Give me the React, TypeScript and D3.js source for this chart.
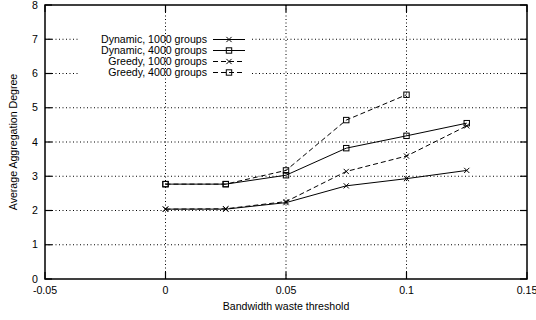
import { useEffect, useRef } from 'react';
import * as d3 from 'd3';

const thresholds = [0, 0.025, 0.05, 0.075, 0.1, 0.125];
const dynamic1000 = [2.04, 2.04, 2.23, 2.72, 2.93, 3.17];
const dynamic4000 = [2.77, 2.77, 3.03, 3.82, 4.18, 4.55];
const greedy1000 = [2.04, 2.05, 2.26, 3.14, 3.59, 4.47];
const greedy4000 = [2.77, 2.77, 3.17, 4.64, 5.38];

const xTicks = [-0.05, 0, 0.05, 0.1, 0.15];
const yTicks = [0, 1, 2, 3, 4, 5, 6, 7, 8];

interface Series {
  label: string;
  values: number[];
  marker: 'cross' | 'square';
  dashed: boolean;
}

const seriesList: Series[] = [
  { label: 'Dynamic, 1000 groups', values: dynamic1000, marker: 'cross', dashed: false },
  { label: 'Dynamic, 4000 groups', values: dynamic4000, marker: 'square', dashed: false },
  { label: 'Greedy, 1000 groups', values: greedy1000, marker: 'cross', dashed: true },
  { label: 'Greedy, 4000 groups', values: greedy4000, marker: 'square', dashed: true },
];

const FONT = 'Liberation Sans, Arial, Helvetica, sans-serif';
const FS = 10.6;

export default function App() {
  const svgRef = useRef<SVGSVGElement>(null);

  useEffect(() => {
    if (!svgRef.current) return;
    const width = 536;
    const height = 320;
    const margin = { top: 5, right: 9, bottom: 41, left: 45 };
    const innerWidth = width - margin.left - margin.right;
    const innerHeight = height - margin.top - margin.bottom;

    const svg = d3.select(svgRef.current);
    svg.selectAll('*').remove();
    svg.attr('width', width).attr('height', height);
    svg.append('rect').attr('width', width).attr('height', height).attr('fill', '#fff');

    const x = d3.scaleLinear().domain([-0.05, 0.15]).range([0, innerWidth]);
    const y = d3.scaleLinear().domain([0, 8]).range([innerHeight, 0]);

    const g = svg.append('g').attr('transform', `translate(${margin.left}, ${margin.top})`);

    // legend geometry (relative to plot area)
    const keyTextRight = 162;
    const keySampleX0 = 168;
    const keySampleX1 = 200;
    const keyRowY0 = 34.5;
    const keyRowStep = 11;
    const keyBox = { x0: 33, x1: 207, y0: keyRowY0 - 6, y1: keyRowY0 + keyRowStep * 3 + 6 };

    // grid
    const gridDash = '1,2.5';
    xTicks.slice(1, -1).forEach((t) => {
      g.append('line')
        .attr('x1', x(t)).attr('x2', x(t))
        .attr('y1', 0).attr('y2', innerHeight)
        .attr('stroke', '#000').attr('stroke-width', 1)
        .attr('stroke-dasharray', gridDash);
    });
    yTicks.slice(1, -1).forEach((t) => {
      const yy = y(t);
      const segs: [number, number][] = yy > keyBox.y0 && yy < keyBox.y1
        ? [[0, keyBox.x0], [keyBox.x1, innerWidth]]
        : [[0, innerWidth]];
      segs.forEach(([a, b]) => {
        g.append('line')
          .attr('x1', a).attr('x2', b)
          .attr('y1', yy).attr('y2', yy)
          .attr('stroke', '#000').attr('stroke-width', 1)
          .attr('stroke-dasharray', gridDash);
      });
    });

    // ticks (inward, mirrored)
    const tickLen = 7;
    xTicks.forEach((t) => {
      g.append('line').attr('x1', x(t)).attr('x2', x(t)).attr('y1', innerHeight).attr('y2', innerHeight - tickLen)
        .attr('stroke', '#000').attr('stroke-width', 1.2);
      g.append('line').attr('x1', x(t)).attr('x2', x(t)).attr('y1', 0).attr('y2', tickLen)
        .attr('stroke', '#000').attr('stroke-width', 1.2);
      g.append('text')
        .attr('x', x(t)).attr('y', innerHeight + 15)
        .attr('text-anchor', 'middle')
        .attr('font-family', FONT).attr('font-size', FS)
        .text(String(t));
    });
    yTicks.forEach((t) => {
      g.append('line').attr('x1', 0).attr('x2', tickLen).attr('y1', y(t)).attr('y2', y(t))
        .attr('stroke', '#000').attr('stroke-width', 1.2);
      g.append('line').attr('x1', innerWidth).attr('x2', innerWidth - tickLen).attr('y1', y(t)).attr('y2', y(t))
        .attr('stroke', '#000').attr('stroke-width', 1.2);
      g.append('text')
        .attr('x', -7).attr('y', y(t))
        .attr('dy', '0.35em')
        .attr('text-anchor', 'end')
        .attr('font-family', FONT).attr('font-size', FS)
        .text(String(t));
    });

    // border
    g.append('rect')
      .attr('width', innerWidth).attr('height', innerHeight)
      .attr('fill', 'none').attr('stroke', '#000').attr('stroke-width', 1.5);

    const drawMarker = (sel: d3.Selection<SVGGElement, unknown, null, undefined>, cx: number, cy: number, kind: string) => {
      if (kind === 'cross') {
        const s = 2.6;
        sel.append('path')
          .attr('d', `M${cx - s},${cy - s}L${cx + s},${cy + s}M${cx - s},${cy + s}L${cx + s},${cy - s}`)
          .attr('stroke', '#000').attr('stroke-width', 1).attr('fill', 'none');
      } else {
        const s = 2.7;
        sel.append('rect')
          .attr('x', cx - s).attr('y', cy - s).attr('width', 2 * s).attr('height', 2 * s)
          .attr('stroke', '#000').attr('stroke-width', 1).attr('fill', 'none');
      }
    };

    const line = d3.line<number>()
      .x((_d, i) => x(thresholds[i]))
      .y((d) => y(d));

    seriesList.forEach((s) => {
      const sg = g.append('g');
      sg.append('path')
        .datum(s.values)
        .attr('d', line)
        .attr('fill', 'none')
        .attr('stroke', '#000')
        .attr('stroke-width', 1)
        .attr('stroke-dasharray', s.dashed ? '5,3' : null);
      s.values.forEach((v, i) => drawMarker(sg, x(thresholds[i]), y(v), s.marker));
    });

    // legend
    seriesList.forEach((s, i) => {
      const ly = keyRowY0 + i * keyRowStep;
      const lg = g.append('g');
      lg.append('text')
        .attr('x', keyTextRight).attr('y', ly)
        .attr('dy', '0.35em')
        .attr('text-anchor', 'end')
        .attr('font-family', FONT).attr('font-size', FS)
        .text(s.label);
      lg.append('line')
        .attr('x1', keySampleX0).attr('x2', keySampleX1)
        .attr('y1', ly).attr('y2', ly)
        .attr('stroke', '#000').attr('stroke-width', 1)
        .attr('stroke-dasharray', s.dashed ? '5,3' : null);
      drawMarker(lg, (keySampleX0 + keySampleX1) / 2, ly, s.marker);
    });

    // axis titles
    svg.append('text')
      .attr('x', margin.left + x(0.05)).attr('y', 310)
      .attr('text-anchor', 'middle')
      .attr('font-family', FONT).attr('font-size', FS)
      .text('Bandwidth waste threshold');
    svg.append('text')
      .attr('transform', `translate(13, ${margin.top + innerHeight / 2}) rotate(-90)`)
      .attr('text-anchor', 'middle')
      .attr('dy', '0.35em')
      .attr('font-family', FONT).attr('font-size', FS)
      .text('Average Aggregation Degree');
  }, []);

  return (
    <svg ref={svgRef} style={{ position: 'absolute', left: 0, top: 0, display: 'block' }} />
  );
}
